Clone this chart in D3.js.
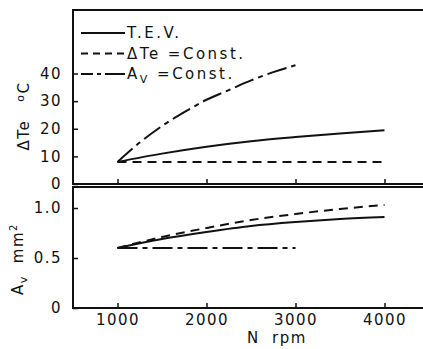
<!DOCTYPE html>
<html>
<head>
  <script src="https://d3js.org/d3.v7.min.js"></script>
  <style>
    body { margin: 0; background: #fff; }
    text { font-family: "DejaVu Sans", sans-serif; fill: #111; }
    .line { fill: none; stroke: #111; stroke-width: 2px; }
  </style>
</head>
<body>
  <script>
    // rpm values
    var rpmTev = [1000, 1500, 2000, 2500, 3000, 3500, 4000];
    var rpmConst = [1000, 4000];
    var rpmAv = [1000, 1250, 1500, 1750, 2000, 2250, 2500, 2750, 3000];

    // upper panel: delta Te (deg C)
    var dTeTev = [8, 11, 13.5, 15.5, 17, 18.3, 19.5];
    var dTeConst = [8, 8];
    var dTeAv = [8, 15, 21, 26, 30.5, 34, 37.5, 40.5, 43];

    // lower panel: Av (mm2)
    var avTev = [0.6, 0.69, 0.76, 0.82, 0.86, 0.89, 0.91];
    var rpmDte = [1000, 1500, 2000, 2500, 3000, 3500, 4000];
    var avDte = [0.6, 0.71, 0.8, 0.88, 0.94, 0.99, 1.03];
    var rpmAvConst = [1000, 3000];
    var avConst = [0.6, 0.6];

    var xTicks = [1000, 2000, 3000, 4000];
    var upperTicks = [0, 10, 20, 30, 40];
    var lowerTicks = [0, 0.5, 1.0];

    var W = 423, H = 349;
    var svg = d3.select("body").append("svg").attr("width", W).attr("height", H);

    var x = d3.scaleLinear().domain([500, 4500]).range([73, 429]);
    var yU = d3.scaleLinear().domain([0, 63]).range([184, 10]);
    var yL = d3.scaleLinear().domain([0, 1.22]).range([308, 186]);

    var solid = null, dashed = "9,6", dashDot = "20,5,5,5";

    function pts(xs, ys) { return xs.map(function (d, i) { return [d, ys[i]]; }); }

    function drawLine(data, yScale, dash) {
      var p = svg.append("path")
        .datum(data)
        .attr("class", "line")
        .attr("d", d3.line().curve(d3.curveMonotoneX)
          .x(function (d) { return x(d[0]); })
          .y(function (d) { return yScale(d[1]); }));
      if (dash) p.attr("stroke-dasharray", dash);
    }

    // frames
    svg.append("rect").attr("x", 73).attr("y", 10).attr("width", 370).attr("height", 174)
      .attr("fill", "none").attr("stroke", "#111").attr("stroke-width", 2);
    svg.append("rect").attr("x", 73).attr("y", 187).attr("width", 370).attr("height", 121)
      .attr("fill", "none").attr("stroke", "#111").attr("stroke-width", 2);

    // axes (ticks inward)
    var fmt = function (d) { return d === 0 ? "0" : d3.format(".1f")(d); };
    svg.append("g").attr("transform", "translate(73,0)")
      .call(d3.axisLeft(yU).tickValues(upperTicks).tickSize(-5).tickPadding(11))
      .call(function (g) { g.select(".domain").remove(); });
    svg.append("g").attr("transform", "translate(73,0)")
      .call(d3.axisLeft(yL).tickValues(lowerTicks).tickFormat(fmt).tickSize(-5).tickPadding(11))
      .call(function (g) { g.select(".domain").remove(); });
    svg.append("g").attr("transform", "translate(0,184)")
      .call(d3.axisBottom(x).tickValues(xTicks).tickSize(-5).tickFormat(""))
      .call(function (g) { g.select(".domain").remove(); });
    svg.append("g").attr("transform", "translate(0,308)")
      .call(d3.axisBottom(x).tickValues(xTicks).tickFormat(d3.format("d")).tickSize(-5).tickPadding(6))
      .call(function (g) { g.select(".domain").remove(); });
    svg.selectAll(".tick line").attr("stroke", "#111").attr("stroke-width", 1.5);
    svg.selectAll(".tick text").attr("font-size", 15).attr("letter-spacing", 1.5)
      .attr("font-family", "DejaVu Sans").attr("fill", "#111");

    // upper panel lines
    drawLine(pts(rpmTev, dTeTev), yU, solid);
    drawLine(pts(rpmConst, dTeConst), yU, dashed);
    drawLine(pts(rpmAv, dTeAv), yU, dashDot);

    // lower panel lines
    drawLine(pts(rpmTev, avTev), yL, solid);
    drawLine(pts(rpmDte, avDte), yL, dashed);
    drawLine(pts(rpmAvConst, avConst), yL, dashDot);

    // legend
    var legend = [
      { dash: solid, label: "T.E.V." },
      { dash: dashed, label: "\u0394Te =Const." },
      { dash: dashDot, label: "Av =Const." }
    ];
    legend.forEach(function (d, i) {
      var yy = 33 + i * 20.5;
      var l = svg.append("line").attr("x1", 81).attr("x2", 125).attr("y1", yy).attr("y2", yy)
        .attr("stroke", "#111").attr("stroke-width", 2);
      if (d.dash) l.attr("stroke-dasharray", d.dash === dashDot ? "12,4,4,4,20" : "7,5");
      var t = svg.append("text").attr("x", 127).attr("y", yy + 5).attr("font-size", 15)
        .attr("letter-spacing", 2.5);
      if (i === 2) {
        t.append("tspan").text("A");
        t.append("tspan").attr("font-size", 11).attr("dy", 4).text("V");
        t.append("tspan").attr("dy", -4).text(" =Const.");
      } else {
        t.text(d.label);
      }
    });

    // axis titles
    var tU = svg.append("text").attr("transform", "translate(29,116) rotate(-90)")
      .attr("font-size", 15).attr("text-anchor", "middle").attr("letter-spacing", 1.5);
    tU.append("tspan").text("\u0394Te");
    tU.append("tspan").attr("dx", 18).attr("font-size", 11).attr("dy", -5).text("o");
    tU.append("tspan").attr("dy", 5).text("C");

    var tL = svg.append("text").attr("transform", "translate(23,259) rotate(-90)")
      .attr("font-size", 15).attr("text-anchor", "middle").attr("letter-spacing", 1.5);
    tL.append("tspan").text("A");
    tL.append("tspan").attr("font-size", 11).attr("dy", 4).text("v");
    tL.append("tspan").attr("dy", -4).attr("dx", 12).text("mm");
    tL.append("tspan").attr("font-size", 10).attr("dy", -6).text("2");

    var xl = svg.append("text").attr("y", 343).attr("font-size", 15).attr("letter-spacing", 1.5);
    xl.append("tspan").attr("x", 247).text("N");
    xl.append("tspan").attr("x", 272).text("rpm");
  </script>
</body>
</html>
